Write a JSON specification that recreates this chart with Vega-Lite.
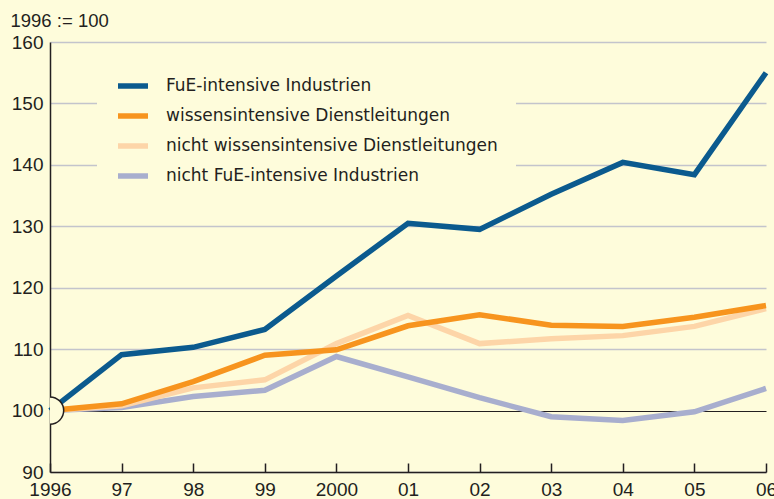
{
  "$schema": "https://vega.github.io/schema/vega-lite/v6.json",
  "width": 716,
  "height": 430,
  "autosize": {"type": "none"},
  "padding": {"left": 50, "top": 42, "right": 8, "bottom": 27},
  "background": "#fefcdb",
  "config": {
    "view": {"stroke": null},
    "font": "Liberation Sans",
    "axis": {"labelFont": "Liberation Sans", "labelColor": "#231f20", "titleFont": "Liberation Sans"},
    "legend": {"labelFont": "DejaVu Sans"}
  },
  "data": {
    "values": [
      {"year": 1996, "value": 100, "series": "nicht FuE-intensive Industrien"},
      {"year": 1997, "value": 100.5, "series": "nicht FuE-intensive Industrien"},
      {"year": 1998, "value": 102.3, "series": "nicht FuE-intensive Industrien"},
      {"year": 1999, "value": 103.3, "series": "nicht FuE-intensive Industrien"},
      {"year": 2000, "value": 108.8, "series": "nicht FuE-intensive Industrien"},
      {"year": 2001, "value": 105.5, "series": "nicht FuE-intensive Industrien"},
      {"year": 2002, "value": 102.1, "series": "nicht FuE-intensive Industrien"},
      {"year": 2003, "value": 99.0, "series": "nicht FuE-intensive Industrien"},
      {"year": 2004, "value": 98.4, "series": "nicht FuE-intensive Industrien"},
      {"year": 2005, "value": 99.8, "series": "nicht FuE-intensive Industrien"},
      {"year": 2006, "value": 103.6, "series": "nicht FuE-intensive Industrien"},
      {"year": 1996, "value": 100, "series": "nicht wissensintensive Dienstleitungen"},
      {"year": 1997, "value": 100.8, "series": "nicht wissensintensive Dienstleitungen"},
      {"year": 1998, "value": 103.7, "series": "nicht wissensintensive Dienstleitungen"},
      {"year": 1999, "value": 105.0, "series": "nicht wissensintensive Dienstleitungen"},
      {"year": 2000, "value": 110.9, "series": "nicht wissensintensive Dienstleitungen"},
      {"year": 2001, "value": 115.5, "series": "nicht wissensintensive Dienstleitungen"},
      {"year": 2002, "value": 110.9, "series": "nicht wissensintensive Dienstleitungen"},
      {"year": 2003, "value": 111.7, "series": "nicht wissensintensive Dienstleitungen"},
      {"year": 2004, "value": 112.2, "series": "nicht wissensintensive Dienstleitungen"},
      {"year": 2005, "value": 113.7, "series": "nicht wissensintensive Dienstleitungen"},
      {"year": 2006, "value": 116.6, "series": "nicht wissensintensive Dienstleitungen"},
      {"year": 1996, "value": 100, "series": "wissensintensive Dienstleitungen"},
      {"year": 1997, "value": 101.1, "series": "wissensintensive Dienstleitungen"},
      {"year": 1998, "value": 104.7, "series": "wissensintensive Dienstleitungen"},
      {"year": 1999, "value": 109.0, "series": "wissensintensive Dienstleitungen"},
      {"year": 2000, "value": 109.9, "series": "wissensintensive Dienstleitungen"},
      {"year": 2001, "value": 113.8, "series": "wissensintensive Dienstleitungen"},
      {"year": 2002, "value": 115.6, "series": "wissensintensive Dienstleitungen"},
      {"year": 2003, "value": 113.9, "series": "wissensintensive Dienstleitungen"},
      {"year": 2004, "value": 113.7, "series": "wissensintensive Dienstleitungen"},
      {"year": 2005, "value": 115.2, "series": "wissensintensive Dienstleitungen"},
      {"year": 2006, "value": 117.1, "series": "wissensintensive Dienstleitungen"},
      {"year": 1996, "value": 100, "series": "FuE-intensive Industrien"},
      {"year": 1997, "value": 109.1, "series": "FuE-intensive Industrien"},
      {"year": 1998, "value": 110.3, "series": "FuE-intensive Industrien"},
      {"year": 1999, "value": 113.2, "series": "FuE-intensive Industrien"},
      {"year": 2000, "value": 121.9, "series": "FuE-intensive Industrien"},
      {"year": 2001, "value": 130.5, "series": "FuE-intensive Industrien"},
      {"year": 2002, "value": 129.5, "series": "FuE-intensive Industrien"},
      {"year": 2003, "value": 135.2, "series": "FuE-intensive Industrien"},
      {"year": 2004, "value": 140.4, "series": "FuE-intensive Industrien"},
      {"year": 2005, "value": 138.4, "series": "FuE-intensive Industrien"},
      {"year": 2006, "value": 155.0, "series": "FuE-intensive Industrien"}
    ]
  },
  "layer": [
    {
      "mark": {"type": "line", "strokeWidth": 5.5, "strokeJoin": "miter", "strokeCap": "butt"},
      "encoding": {
        "x": {
          "field": "year", "type": "quantitative",
          "scale": {"domain": [1996, 2006], "nice": false, "zero": false},
          "axis": {
            "title": null,
            "values": [1996, 1997, 1998, 1999, 2000, 2001, 2002, 2003, 2004, 2005, 2006],
            "labelExpr": "datum.value == 1996 || datum.value == 2000 ? '' + datum.value : slice('' + datum.value, 2)",
            "grid": false,
            "domainColor": "#231f20",
            "domainWidth": 1.5,
            "tickColor": "#231f20",
            "tickWidth": 1.5,
            "tickSize": -9,
            "labelPadding": 17,
            "labelFontSize": 19,
            "labelFlush": false,
            "labelOverlap": false
          }
        },
        "y": {
          "field": "value", "type": "quantitative",
          "scale": {"domain": [90, 160], "nice": false, "zero": false},
          "axis": {
            "title": "1996 := 100",
            "titleAngle": 0,
            "titleAlign": "left",
            "titleBaseline": "alphabetic",
            "titleX": -40,
            "titleY": -16,
            "titleFontSize": 18.5,
            "titleFontWeight": "normal",
            "titleColor": "#231f20",
            "values": [90, 100, 110, 120, 130, 140, 150, 160],
            "ticks": false,
            "labelPadding": 7,
            "labelFontSize": 19,
            "domainColor": "#231f20",
            "domainWidth": 1.5,
            "gridColor": {"condition": {"test": "datum.value === 100", "value": "#231f20"}, "value": "#c3c4cc"},
            "gridWidth": {"condition": {"test": "datum.value === 100", "value": 1.2}, "value": 1.5}
          }
        },
        "color": {
          "field": "series", "type": "nominal",
          "scale": {
            "domain": ["FuE-intensive Industrien", "wissensintensive Dienstleitungen", "nicht wissensintensive Dienstleitungen", "nicht FuE-intensive Industrien"],
            "range": ["#0b5a8e", "#f7941e", "#fdd5a8", "#a8aece"]
          },
          "legend": {
            "title": null,
            "orient": "none",
            "legendX": 47,
            "legendY": 8,
            "padding": 18,
            "fillColor": "#fefcdb",
            "symbolType": "stroke",
            "symbolSize": 900,
            "symbolStrokeWidth": 5.5,
            "labelFontSize": 17,
            "labelColor": "#231f20",
            "labelOffset": 15,
            "rowPadding": 1,
            "labelLimit": 500
          }
        }
      }
    },
    {
      "data": {"values": [{"year": 1996, "value": 100}]},
      "mark": {"type": "point", "shape": "circle", "size": 750, "filled": true, "fill": "#fefcdb", "stroke": "#231f20", "strokeWidth": 1.5, "opacity": 1, "clip": true},
      "encoding": {
        "x": {"field": "year", "type": "quantitative"},
        "y": {"field": "value", "type": "quantitative"}
      }
    }
  ]
}
